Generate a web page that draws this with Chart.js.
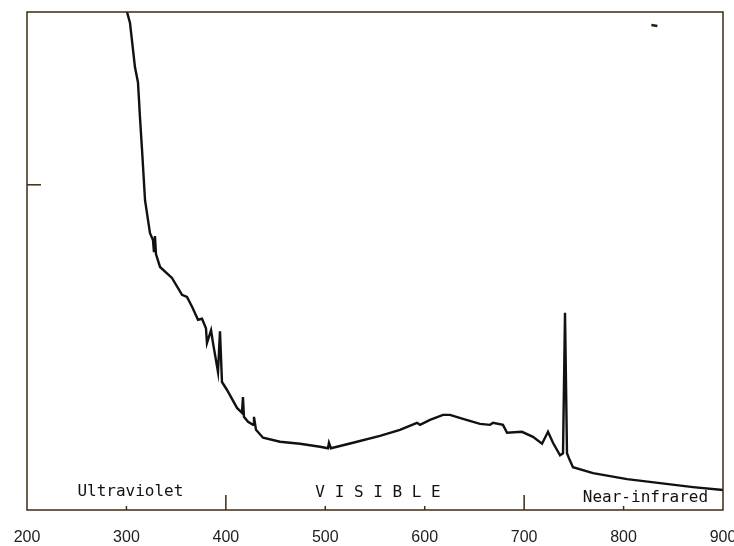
<!DOCTYPE html>
<html>
<head>
<meta charset="utf-8">
<script src="https://cdn.jsdelivr.net/npm/chart.js@4/dist/chart.umd.min.js"></script>
<style>
  html, body { margin: 0; padding: 0; background: #fff; }
  #wrap { width: 734px; height: 546px; }
</style>
</head>
<body>
<div id="wrap"><canvas id="chart"></canvas></div>
<script>
// wavelength (nm) and relative signal
var wavelength = [299, 300.6, 303.6, 308.6, 311.6, 312.6, 313.6, 315.7, 318.7, 323.7, 326.7, 327.7, 328.7, 329.7,
  333.8, 345.8, 355.9, 360.9, 366.0, 372.0, 376.0, 380.0, 381.0, 385.1, 387.1, 392.1, 394.1, 396.1,
  401.2, 411.2, 416.2, 417.2, 418.2, 422.3, 427.3, 428.3, 430.3, 437.4, 454.5, 474.6, 494.7, 502.7,
  503.7, 505.7, 527.9, 555.0, 575.1, 592.2, 595.3, 605.3, 618.4, 625.4, 638.5, 655.6, 665.7, 668.7,
  678.7, 682.8, 697.8, 708.9, 718.0, 724.0, 729.0, 736.1, 739.1, 741.1, 743.1, 745.1, 749.1, 769.3,
  803.5, 836.7, 869.8, 900];
var signal = [102, 100.0, 97.8, 88.9, 85.9, 82.5, 78.9, 72.3, 62.2, 55.6, 54.2, 51.8, 55.0, 51.4,
  48.8, 46.6, 43.2, 42.8, 40.8, 38.2, 38.4, 36.5, 33.5, 36.1, 33.5, 27.7, 35.9, 25.7,
  24.1, 20.5, 19.5, 22.7, 18.7, 17.7, 17.1, 18.7, 16.1, 14.5, 13.7, 13.3, 12.7, 12.4,
  13.5, 12.4, 13.5, 14.9, 16.1, 17.5, 17.1, 18.1, 19.1, 19.1, 18.3, 17.3, 17.1, 17.5,
  17.1, 15.5, 15.7, 14.7, 13.3, 15.7, 13.5, 11.0, 11.4, 39.6, 11.4, 10.4, 8.6, 7.4,
  6.2, 5.4, 4.6, 4.0];

var tickLabels = [200, 300, 400, 500, 600, 700, 800, 900];
var majorTicks = [400, 700];
var minorTicks = [300, 500, 600, 800];
var regionNames = ["Ultraviolet", "V I S I B L E", "Near-infrared"];
var regionCenters = [304, 553, 822];
var regionHeights = [3.7, 3.5, 2.4];

var points = wavelength.map(function (w, i) { return { x: w, y: signal[i] }; });

// box, inward ticks and region names
var frame = {
  id: 'frame',
  afterDatasetsDraw: function (chart) {
    var ctx = chart.ctx;
    var a = chart.chartArea;
    var x = chart.scales.x;
    var y = chart.scales.y;
    ctx.save();
    ctx.strokeStyle = '#3b2c14';
    ctx.lineWidth = 1.5;
    ctx.strokeRect(a.left, a.top, a.right - a.left, a.bottom - a.top);

    ctx.lineWidth = 1.5;
    majorTicks.forEach(function (v) {
      var px = x.getPixelForValue(v);
      ctx.beginPath(); ctx.moveTo(px, a.bottom); ctx.lineTo(px, a.bottom - 15); ctx.stroke();
    });
    minorTicks.forEach(function (v) {
      var px = x.getPixelForValue(v);
      ctx.beginPath(); ctx.moveTo(px, a.bottom); ctx.lineTo(px, a.bottom - 4); ctx.stroke();
    });
    var ty = y.getPixelForValue(65.3);
    ctx.beginPath(); ctx.moveTo(a.left, ty); ctx.lineTo(a.left + 14, ty); ctx.stroke();

    // small stray mark near top right
    ctx.lineWidth = 2.5;
    ctx.strokeStyle = '#2a1c08';
    var mx = x.getPixelForValue(831), my = y.getPixelForValue(97.4);
    ctx.beginPath(); ctx.moveTo(mx - 3, my); ctx.lineTo(mx + 3, my + 1); ctx.stroke();

    ctx.fillStyle = '#111';
    ctx.font = '16px "DejaVu Sans Mono"';
    ctx.textAlign = 'center';
    ctx.textBaseline = 'middle';
    regionNames.forEach(function (name, i) {
      ctx.fillText(name, x.getPixelForValue(regionCenters[i]), y.getPixelForValue(regionHeights[i]));
    });
    ctx.restore();
  }
};

var chart = new Chart(document.getElementById('chart').getContext('2d'), {
  type: 'line',
  data: {
    datasets: [{
      data: points,
      borderColor: '#111',
      borderWidth: 2.4,
      pointRadius: 0,
      tension: 0,
      fill: false
    }]
  },
  options: {
    responsive: true,
    maintainAspectRatio: false,
    animation: false,
    layout: { padding: { left: 27, right: 11, top: 12, bottom: 0 } },
    plugins: { legend: { display: false }, tooltip: { enabled: false } },
    scales: {
      x: {
        type: 'linear',
        min: 200,
        max: 900,
        afterBuildTicks: function (scale) {
          scale.ticks = tickLabels.map(function (v) { return { value: v }; });
        },
        afterFit: function (scale) {
          scale.paddingLeft = 0;
          scale.paddingRight = 0;
          scale.height = 36;
        },
        grid: { display: false, drawTicks: false },
        border: { display: false },
        ticks: {
          padding: 18,
          maxRotation: 0,
          autoSkip: false,
          color: '#222',
          font: { family: '"Liberation Sans"', size: 16 }
        }
      },
      y: {
        display: false,
        min: 0,
        max: 100
      }
    }
  },
  plugins: [frame]
});
</script>
</body>
</html>
